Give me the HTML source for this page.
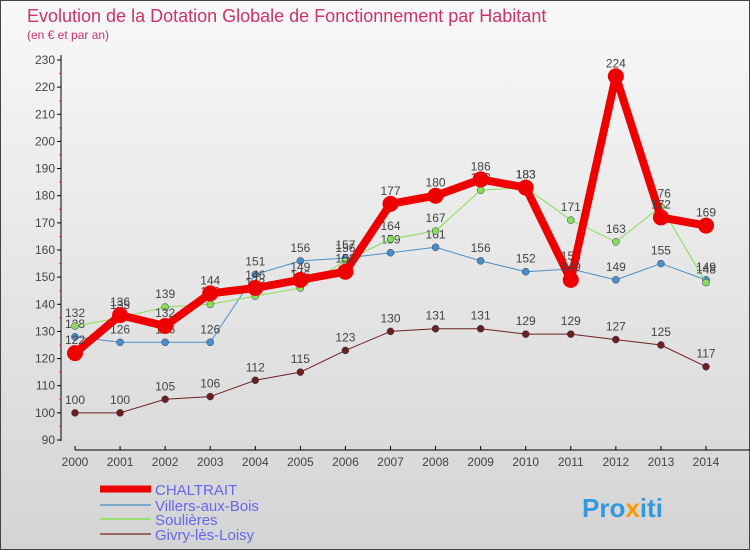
<!DOCTYPE html>
<html><head><meta charset="utf-8"><style>
body{margin:0}
svg{display:block;font-family:"Liberation Sans",sans-serif}
</style></head><body>
<svg id="c" width="750" height="550">
<defs><linearGradient id="bg" x1="0" y1="0" x2="0" y2="1"><stop offset="0" stop-color="#f8f8f8"/><stop offset="1" stop-color="#d4d4d4"/></linearGradient></defs>
<rect x="0.5" y="0.5" width="749" height="549" fill="url(#bg)" stroke="#444"/>
<text x="27" y="22" font-size="18" fill="#cc3366">Evolution de la Dotation Globale de Fonctionnement par Habitant</text>
<text x="27" y="39" font-size="12" fill="#cc3366">(en € et par an)</text>
<g id="axes"></g><g id="series"></g><g id="legend"></g>
<text x="582" y="517" font-size="26" font-weight="bold" fill="#3399dd">Pro<tspan fill="#ff9900">x</tspan>iti</text>
</svg>
<script>
const years=[2000,2001,2002,2003,2004,2005,2006,2007,2008,2009,2010,2011,2012,2013,2014];
const chaltrait=[122,136,132,144,146,149,152,177,180,186,183,149,224,172,169];
const villers=[128,126,126,126,151,156,157,159,161,156,152,153,149,155,149];
const soulieres=[132,135,139,140,143,146,156,164,167,182,183,171,163,176,148];
const givry=[100,100,105,106,112,115,123,130,131,131,129,129,127,125,117];
const yTicks=[90,100,110,120,130,140,150,160,170,180,190,200,210,220,230];
const NS="http://www.w3.org/2000/svg";
const X=i=>75+i*(706-75)/14;
const Y=v=>440-(v-90)*(380/140);
function mk(p,t,a){const e=document.createElementNS(NS,t);for(const k in a)e.setAttribute(k,a[k]);p.appendChild(e);return e;}
const ax=document.getElementById('axes');
let l=mk(ax,'line',{x1:61,y1:55,x2:61,y2:441,stroke:'#000'});


l=mk(ax,'line',{x1:75,y1:450,x2:750,y2:450,stroke:'#000'});


yTicks.forEach(v=>{
  mk(ax,'line',{x1:57,y1:Y(v),x2:61,y2:Y(v),stroke:'#000'});
  if(v<230)mk(ax,'line',{x1:59,y1:Y(v+5),x2:62,y2:Y(v+5),stroke:'#e33'});
  const t=mk(ax,'text',{x:55,y:Y(v)+4,'font-size':12,fill:'#444','text-anchor':'end'});t.textContent=v;
  
  
});
years.forEach((y,i)=>{
  mk(ax,'line',{x1:X(i),y1:446,x2:X(i),y2:450,stroke:'#000'});
  const t=mk(ax,'text',{x:X(i),y:466,'font-size':12,fill:'#444','text-anchor':'middle'});t.textContent=y;
  
  
});
const series=[
 {name:'Givry-lès-Loisy',d:givry,c:'#6b2020',w:1,r:3.5},
 {name:'Villers-aux-Bois',d:villers,c:'#4a90c8',w:1,r:3.5},
 {name:'Soulières',d:soulieres,c:'#88dd55',w:1,r:3.5},
 {name:'CHALTRAIT',d:chaltrait,c:'#ee0000',w:8,r:8}];
const sg=document.getElementById('series');
series.forEach(s=>{
  const g=mk(sg,'g',{});
  
  
  const p=mk(g,'polyline',{points:s.d.map((v,i)=>X(i)+','+Y(v)).join(' '),fill:'none',stroke:s.c,'stroke-width':s.w,'stroke-linejoin':'round'});
  
  
  s.d.forEach((v,i)=>{
    const c=mk(g,'circle',{cx:X(i),cy:Y(v),r:s.r,fill:s.c,stroke:s.w>1?'none':'#335',
      'stroke-width':0.5});
    
    
    const t=mk(g,'text',{x:X(i),y:Y(v)-9,'font-size':12,fill:'#444','text-anchor':'middle'});t.textContent=v;
    
    
  });
});
const lg=document.getElementById('legend');
const leg=[['CHALTRAIT','#ee0000',7,493],['Villers-aux-Bois','#7aa8c8',2,509],['Soulières','#99dd77',2,523],['Givry-lès-Loisy','#996666',2,538]];
leg.forEach(e=>{
  const g=mk(lg,'g',{});
  
  
  mk(g,'line',{x1:100,y1:e[3]-4,x2:151,y2:e[3]-4,stroke:e[1],'stroke-width':e[2]});
  const t=mk(g,'text',{x:155,y:e[3]+2,'font-size':15,fill:'#6666ee'});t.textContent=e[0];
});
</script>
</body></html>
